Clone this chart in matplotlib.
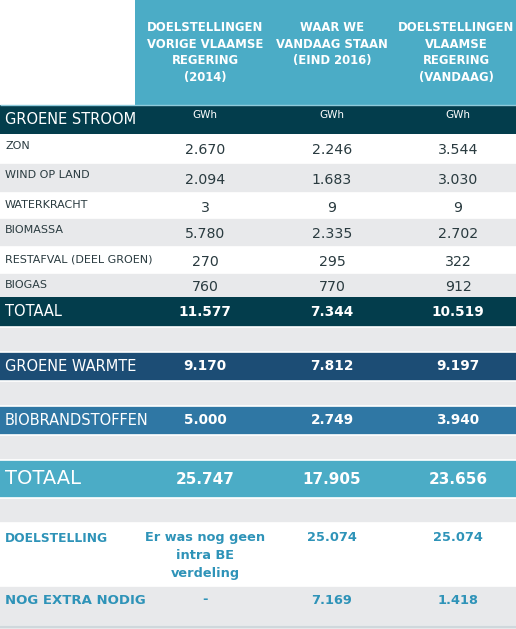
import matplotlib
matplotlib.use("Agg")
from matplotlib import pyplot as plt

plt.rcParams['font.family'] = ['DejaVu Sans']

# column headers
headers = ["DOELSTELLINGEN\nVORIGE VLAAMSE\nREGERING\n(2014)",
           "WAAR WE\nVANDAAG STAAN\n(EIND 2016)",
           "DOELSTELLINGEN\nVLAAMSE\nREGERING\n(VANDAAG)"]

# groene stroom detail
stroom_labels = ["ZON", "WIND OP LAND", "WATERKRACHT", "BIOMASSA",
                 "RESTAFVAL (DEEL GROEN)", "BIOGAS"]
stroom_2014 = ["2.670", "2.094", "3", "5.780", "270", "760"]
stroom_2016 = ["2.246", "1.683", "9", "2.335", "295", "770"]
stroom_nu = ["3.544", "3.030", "9", "2.702", "322", "912"]

totaal_stroom = ["11.577", "7.344", "10.519"]
groene_warmte = ["9.170", "7.812", "9.197"]
biobrandstoffen = ["5.000", "2.749", "3.940"]
totaal = ["25.747", "17.905", "23.656"]
doelstelling = ["Er was nog geen\nintra BE\nverdeling", "25.074", "25.074"]
extra_nodig = ["-", "7.169", "1.418"]

# colours
LIGHT = "#4BACC6"
DARK = "#033D4C"
WARM = "#1C4D75"
BIO = "#2F77A4"
GRAY = "#E8E9EB"
TXT = "#2A3B40"
ACC = "#2E93B8"

W, H = 516, 629
fig = plt.figure(figsize=(W / 100, H / 100), dpi=100)
ax = fig.add_axes([0, 0, 1, 1])
ax.set_xlim(0, W)
ax.set_ylim(H, 0)
ax.axis("off")

cols = [205, 332, 458]


def band(top, bottom, color, x0=0):
    ax.barh((top + bottom) / 2, W - x0, height=bottom - top, left=x0,
            color=color, edgecolor="none")


def sep(y, color="white", lw=1.2):
    ax.plot([0, W], [y, y], color=color, lw=lw, solid_capstyle="butt")


# header
band(0, 105, LIGHT, x0=135)
for x, h in zip([205, 332, 456], headers):
    ax.text(x, 21, h, ha="center", va="top", color="white", fontsize=8.4,
            fontweight="bold", linespacing=1.35)

# groene stroom header
band(105, 134, DARK)
ax.text(5, 120, "GROENE STROOM", ha="left", va="center", color="white", fontsize=10.5)
for x in cols:
    ax.text(x, 115, "GWh", ha="center", va="center", color="white", fontsize=7.5)

# detail rows
tops = [134, 163, 193, 218, 247, 273, 297]
for i, lab in enumerate(stroom_labels):
    t, b = tops[i], tops[i + 1]
    band(t, b, "white" if i % 2 == 0 else GRAY)
    ax.text(5, t + 12, lab, ha="left", va="center", color=TXT, fontsize=8)
    for x, v in zip(cols, [stroom_2014[i], stroom_2016[i], stroom_nu[i]]):
        ax.text(x, (t + b) / 2 + 2, v, ha="center", va="center", color=TXT, fontsize=10.2)

# gaps
band(297, 523, GRAY)
band(586, 629, GRAY)
band(523, 586, "white")


def sum_row(top, bottom, label, vals, color, lsize=10.5, vsize=9.8):
    band(top, bottom, color)
    ax.text(5, (top + bottom) / 2, label, ha="left", va="center", color="white", fontsize=lsize)
    for x, v in zip(cols, vals):
        ax.text(x, (top + bottom) / 2, v, ha="center", va="center", color="white",
                fontsize=vsize, fontweight="bold")


sum_row(297, 327, "TOTAAL", totaal_stroom, DARK)
sum_row(352, 381, "GROENE WARMTE", groene_warmte, WARM)
sum_row(406, 435, "BIOBRANDSTOFFEN", biobrandstoffen, BIO)
sum_row(460, 498, "TOTAAL", totaal, LIGHT, lsize=14, vsize=11)

ax.text(5, 538, "DOELSTELLING", ha="left", va="center", color=ACC, fontsize=8.8,
        fontweight="bold")
for x, v in zip(cols, doelstelling):
    ax.text(x, 531, v, ha="center", va="top", color=ACC, fontsize=9.3,
            fontweight="bold", linespacing=1.5)

ax.text(5, 600, "NOG EXTRA NODIG", ha="left", va="center", color=ACC, fontsize=9.5,
        fontweight="bold")
for x, v in zip(cols, extra_nodig):
    ax.text(x, 600, v, ha="center", va="center", color=ACC, fontsize=9.3,
            fontweight="bold")

for y in tops[1:-1] + [327, 352, 381, 406, 435, 460, 498, 523, 586]:
    sep(y)
sep(105, color="#8FCBDB", lw=1)
sep(627, color="#CFD8DC", lw=1.5)

fig.savefig("out.png", dpi=100)
